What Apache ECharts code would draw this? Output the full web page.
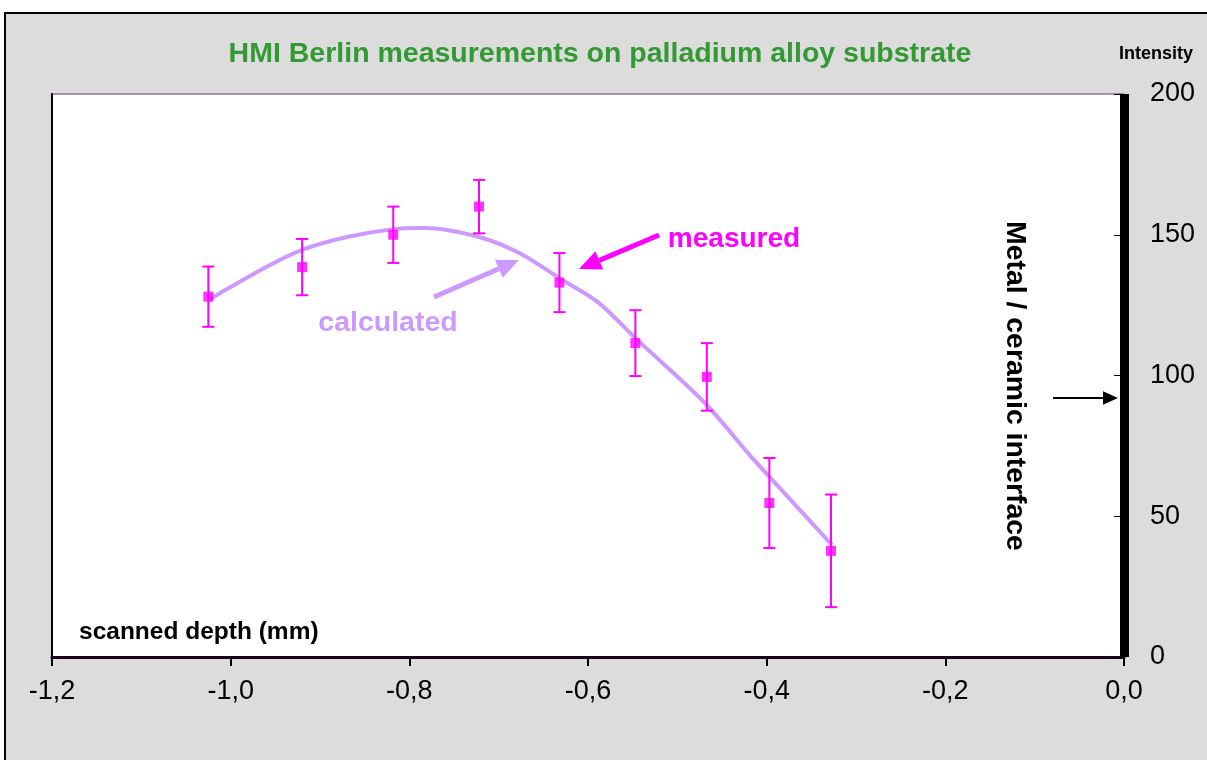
<!DOCTYPE html>
<html>
<head>
<meta charset="utf-8">
<title>HMI Berlin measurements</title>
<script src="https://cdn.jsdelivr.net/npm/echarts@6/dist/echarts.min.js"></script>
<style>
  html, body { margin: 0; padding: 0; background: #fff; }
  #chart { width: 1207px; height: 760px; }
</style>
</head>
<body>
<div id="chart"></div>
<script>
// measured points (depth in mm, intensity) with error bar half-height
const measDepth = [-1.025, -0.920, -0.818, -0.722, -0.632, -0.547, -0.467, -0.397, -0.328];
const measIntensity = [128, 138.5, 150, 160, 133, 111.5, 99.5, 54.7, 37.7];
const measError = [10.7, 10, 10, 9.5, 10.5, 11.7, 12, 16, 20];

// calculated curve
const calcDepth = [-1.024, -0.92, -0.818, -0.783, -0.722, -0.677, -0.629, -0.588, -0.546, -0.47, -0.417, -0.394, -0.327];
const calcIntensity = [127, 144.6, 152, 152.4, 149.2, 143.5, 134, 125.8, 113, 90.5, 71, 63, 39.8];

const xTicks = { min: -1.2, max: 0, interval: 0.2 };
const yTicks = { min: 0, max: 200, interval: 50 };

const FONT = "'Liberation Sans', Arial, sans-serif";
const MAGENTA = "#ff00ff";
const LILAC = "#cc99ff";

const chart = echarts.init(document.getElementById("chart"));

const measData = measDepth.map((d, i) => [d, measIntensity[i]]);
const errData = measDepth.map((d, i) => [d, measIntensity[i] - measError[i], measIntensity[i] + measError[i]]);
const calcData = calcDepth.map((d, i) => [d, calcIntensity[i]]);

function arrow(x1, y1, x2, y2, color, width, head) {
  // line plus triangular head pointing at (x2, y2)
  const a = Math.atan2(y2 - y1, x2 - x1);
  const bx = x2 - head * Math.cos(a), by = y2 - head * Math.sin(a);
  const hw = head * 0.45;
  return [
    {
      type: "polyline", silent: true, z: 50,
      shape: { points: [[x1, y1], [bx, by]] },
      style: { stroke: color, lineWidth: width, fill: null }
    },
    {
      type: "polygon", silent: true, z: 50,
      shape: { points: [[x2, y2], [bx + hw * Math.sin(a), by - hw * Math.cos(a)], [bx - hw * Math.sin(a), by + hw * Math.cos(a)]] },
      style: { fill: color, stroke: null }
    }
  ];
}

chart.setOption({
  backgroundColor: "#fff",
  animation: false,
  textStyle: { fontFamily: FONT },
  grid: {
    left: 52, top: 94, right: 83, bottom: 103,
    show: true, backgroundColor: "#fff",
    borderColor: "#663366", borderWidth: 1
  },
  xAxis: {
    type: "value",
    min: xTicks.min, max: xTicks.max, interval: xTicks.interval,
    axisLine: { onZero: false, lineStyle: { color: "#1a001a", width: 3 } },
    axisTick: { length: 9, lineStyle: { color: "#000", width: 2 } },
    axisLabel: {
      fontSize: 27, color: "#000", margin: 21, fontFamily: FONT,
      formatter: v => v.toFixed(1).replace(".", ",")
    },
    splitLine: { show: false }
  },
  yAxis: [
    {
      type: "value", position: "right", offset: 5,
      min: yTicks.min, max: yTicks.max, interval: yTicks.interval,
      axisLine: { show: true, lineStyle: { color: "#000", width: 9, cap: "butt" } },
      axisTick: { show: true, inside: true, length: 10, lineStyle: { color: "#000", width: 1 } },
      axisLabel: { fontSize: 27, color: "#000", margin: 21, fontFamily: FONT },
      splitLine: { show: false }
    },
    {
      type: "value", position: "left",
      min: yTicks.min, max: yTicks.max,
      axisLine: { show: true, onZero: false, lineStyle: { color: "#000", width: 2 } },
      axisTick: { show: false },
      axisLabel: { show: false },
      splitLine: { show: false }
    }
  ],
  series: [
    {
      name: "calculated",
      type: "line",
      data: calcData,
      smooth: 0.3,
      showSymbol: false,
      lineStyle: { color: LILAC, width: 4 },
      z: 2
    },
    {
      name: "error",
      type: "custom",
      data: errData,
      z: 3,
      renderItem: function (params, api) {
        const x = api.value(0);
        const lo = api.coord([x, api.value(1)]);
        const hi = api.coord([x, api.value(2)]);
        const w = 6;
        const st = { stroke: MAGENTA, lineWidth: 2 };
        return {
          type: "group",
          children: [
            { type: "line", shape: { x1: hi[0], y1: hi[1], x2: lo[0], y2: lo[1] }, style: st },
            { type: "line", shape: { x1: hi[0] - w, y1: hi[1], x2: hi[0] + w, y2: hi[1] }, style: st },
            { type: "line", shape: { x1: lo[0] - w, y1: lo[1], x2: lo[0] + w, y2: lo[1] }, style: st }
          ]
        };
      }
    },
    {
      name: "measured",
      type: "scatter",
      data: measData,
      symbol: "rect",
      symbolSize: 10,
      itemStyle: { color: MAGENTA },
      z: 4
    }
  ],
  graphic: [
    {
      type: "rect", silent: true, z: -10,
      shape: { x: 5, y: 13, width: 1300, height: 800 },
      style: { fill: "#dcdcdc", stroke: "#000", lineWidth: 2 }
    },
    {
      type: "text", silent: true, z: 50,
      style: {
        x: 600, y: 54, text: "HMI Berlin measurements on palladium alloy substrate",
        fill: "#339933", font: "bold 28.5px " + FONT,
        textAlign: "center", textVerticalAlign: "middle"
      }
    },
    {
      type: "text", silent: true, z: 50,
      style: {
        x: 1156, y: 54, text: "Intensity",
        fill: "#000", font: "bold 18px " + FONT,
        textAlign: "center", textVerticalAlign: "middle"
      }
    },
    {
      type: "text", silent: true, z: 50,
      style: {
        x: 79, y: 632, text: "scanned depth (mm)",
        fill: "#000", font: "bold 24.5px " + FONT,
        textAlign: "left", textVerticalAlign: "middle"
      }
    },
    {
      type: "text", silent: true, z: 50,
      style: {
        x: 734, y: 239, text: "measured",
        fill: MAGENTA, font: "bold 28px " + FONT,
        textAlign: "center", textVerticalAlign: "middle"
      }
    },
    {
      type: "text", silent: true, z: 50,
      style: {
        x: 388, y: 323, text: "calculated",
        fill: LILAC, font: "bold 28.5px " + FONT,
        textAlign: "center", textVerticalAlign: "middle"
      }
    },
    {
      type: "text", silent: true, z: 50,
      x: 1015, y: 386, rotation: -Math.PI / 2,
      style: {
        x: 0, y: 0, text: "Metal / ceramic interface",
        fill: "#000", font: "bold 28.4px " + FONT,
        textAlign: "center", textVerticalAlign: "middle"
      }
    }
  ]
    .concat(arrow(659, 235, 579, 269, MAGENTA, 5, 22))
    .concat(arrow(434, 297, 519, 260, LILAC, 5, 22))
    .concat(arrow(1053, 398, 1118, 398, "#000", 2, 15))
});
</script>
</body>
</html>
